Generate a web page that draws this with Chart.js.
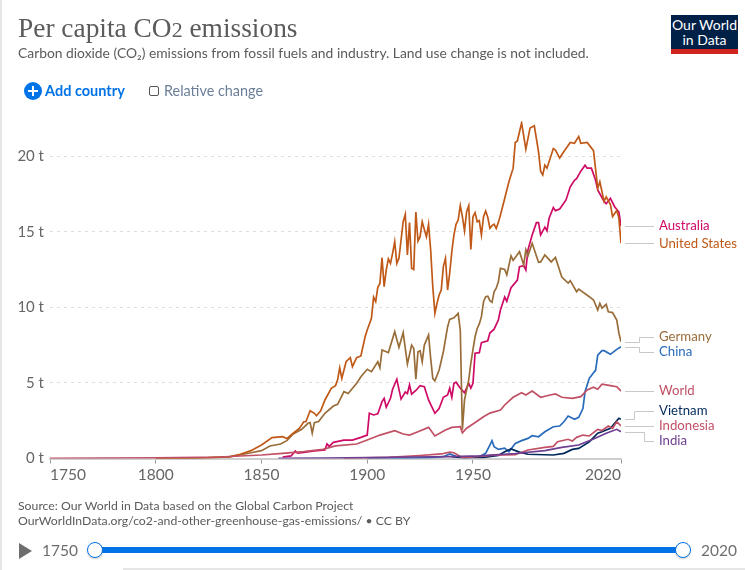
<!DOCTYPE html>
<html>
<head>
<meta charset="utf-8">
<title>Per capita CO2 emissions</title>
<script src="https://cdn.jsdelivr.net/npm/chart.js@4/dist/chart.umd.min.js"></script>
<style>
    html, body { margin: 0; padding: 0; background: #fff; overflow: hidden; }
    #page { position: relative; width: 745px; height: 570px; font-family: Lato, sans-serif; overflow: hidden; }
    #page > * { position: absolute; white-space: nowrap; }
    #edge { left: 0; top: 0; width: 2px; height: 570px; background: #e6e6e6; }
    #bottomline { left: 123px; top: 568px; width: 622px; height: 2px; background: #e6e6e6; }
    #chart { left: 0; top: 0; }
    #title { left: 18px; top: 10px; font-family: "Liberation Serif", serif; font-size: 27.4px; line-height: 36px; color: #5b5b5b; }
    #title span { font-size: 0.8em; }
    #subtitle { left: 18px; top: 44px; font-size: 13.85px; line-height: 18px; color: #5b5b5b; }
    #logo { left: 671px; top: 15px; width: 67px; height: 34px; background: #002147; border-bottom: 5px solid #ce261e; color: #fff; font-size: 14px; line-height: 14.5px; text-align: center; padding-top: 0; }
    #logo div { padding-top: 3px; }
    #addicon { left: 24px; top: 82px; width: 18px; height: 18px; border-radius: 50%; background: #0073e6; }
    #addicon:before { content: ""; position: absolute; left: 4px; top: 8px; width: 10px; height: 2px; background: #fff; }
    #addicon:after { content: ""; position: absolute; left: 8px; top: 4px; width: 2px; height: 10px; background: #fff; }
    #add { left: 45px; top: 82px; font-size: 14.5px; line-height: 18px; font-weight: 700; color: #0073e6; }
    #check { left: 149px; top: 86px; width: 8px; height: 8px; border: 1px solid #555; border-radius: 2px; }
    #relative { left: 164px; top: 82px; font-size: 14.4px; line-height: 18px; color: #6b7f99; }
    #source { left: 18px; top: 499px; font-size: 12.25px; line-height: 14.5px; color: #5b5b5b; }
    #play { left: 19px; top: 543px; width: 0; height: 0; border-left: 13px solid #6e6e6e; border-top: 8px solid transparent; border-bottom: 8px solid transparent; }
    #startyear { left: 42px; top: 541px; font-size: 15.5px; line-height: 18px; color: #6e6e6e; }
    #endyear { left: 701px; top: 541px; font-size: 15.5px; line-height: 18px; color: #6e6e6e; }
    #track { left: 95px; top: 547px; width: 588px; height: 6px; background: #0073e6; }
    .handle { top: 542px; width: 14px; height: 14px; border: 1.5px solid #0073e6; border-radius: 50%; background: #fff; box-shadow: 0 1px 2px rgba(0,0,0,.2); }
</style>
</head>
<body>
<div id="page">
    <canvas id="chart" width="745" height="570"></canvas>
    <div id="edge"></div>
    <div id="bottomline"></div>
    <div id="title">Per capita CO<span>2</span> emissions</div>
    <div id="subtitle">Carbon dioxide (CO₂) emissions from fossil fuels and industry. Land use change is not included.</div>
    <div id="logo"><div>Our World<br>in Data</div></div>
    <div id="addicon"></div>
    <div id="add">Add country</div>
    <div id="check"></div>
    <div id="relative">Relative change</div>
    <div id="source">Source: Our World in Data based on the Global Carbon Project<br>OurWorldInData.org/co2-and-other-greenhouse-gas-emissions/ • CC BY</div>
    <div id="play"></div>
    <div id="startyear">1750</div>
    <div id="track"></div>
    <div class="handle" style="left:87px"></div>
    <div class="handle" style="left:675px"></div>
    <div id="endyear">2020</div>
</div>

<script>
// --- DATOS (t por persona) ---
const xTicks = [1750, 1800, 1850, 1900, 1950, 2020];
const yTicks = [0, 5, 10, 15, 20];

const usYears = [1800,1815,1825,1835,1840,1845,1850,1855,1860,1862,1865,1868,1870,1871,1873,1875,1876,1878,1880,1883,1885,1886,1887,1888,1890,1892,1893,1895,1897,1899,
    1900,1902,1903,1904,1905,1906,1907,1908,1909,1910,1911,1912,1913,1914,1915,1916,1917,1918,1919,1920,1921,1922,1923,1924,1925,1926,1927,1928,1929,1930,1931,1932,1933,1934,1935,1936,1937,1938,1939,1940,1941,1942,1943,1944,1945,1946,1947,1948,1949,1950,1951,1952,1953,1954,1955,1956,1957,1958,1959,1960,1961,1962,1963,
    1965,1967,1969,1970,1971,1973,1975,1977,1979,1981,1982,1983,1984,1985,1988,1989,1991,1993,1994,1996,1998,2000,2001,2004,2007,2009,2010,2012,2013,2015,2016,2018,2019,2020];
const usValues = [0.01,0.03,0.06,0.13,0.28,0.52,0.89,1.38,1.44,1.32,1.67,2.0,2.43,2.43,3.16,2.99,2.83,3.16,3.87,4.64,4.82,5.2,6.0,5.3,6.4,6.67,6.07,6.67,6.78,8.05,
    8.5,9.27,10.67,10.37,11.32,11.58,13.28,11.36,12.47,13.2,12.9,13.57,14.34,12.9,13.24,14.45,15.66,16.15,13.46,15.6,12.58,12.5,16.3,14.38,14.67,15.66,15.15,14.67,15.49,13.79,11.36,9.6,10.26,10.81,11.14,12.69,13.24,11.14,12.25,13.68,14.78,15.49,15.77,16.72,15.99,15.05,16.32,16.72,13.83,15.99,16.26,15.66,15.73,14.78,15.99,16.37,15.95,15.22,15.4,15.49,15.22,15.6,16.1,
    17.2,18.3,19.2,20.9,21.0,22.2,20.45,21.86,22.0,20.3,19.0,18.75,19.4,19.2,20.5,20.4,19.87,20.3,20.5,20.9,20.85,21.3,20.85,20.9,20.36,17.87,18.3,17.0,17.3,16.8,16.0,16.4,15.9,14.24];

const germanyYears = [1800,1820,1835,1845,1850,1854,1859,1862,1865,1869,1872,1873,1874,1875,1877,1880,1884,1886,1889,1891,1895,1897,1900,1902,1905,1906,1907,1909,1910,1913,1915,1917,1919,1921,1922,1923,1924,1925,1926,1927,1929,1930,1931,1932,1934,1936,1938,1939,1941,1943,1944,1945,1946,1948,1949,1950,1951,1952,1953,1954,1955,1956,1957,1958,1959,1960,1961,1962,1963,1965,1966,1968,1969,1972,1974,1975,1976,1978,1981,1982,1984,1987,1989,1992,1995,1996,1999,2000,2005,2007,2009,2010,2011,2013,2014,2016,2018,2019,2020];
const germanyValues = [0.01,0.03,0.1,0.38,0.52,0.83,0.96,1.18,1.62,1.93,2.33,2.37,1.67,2.37,2.45,2.99,3.47,3.58,4.42,4.3,4.97,5.41,5.9,5.74,6.4,6.0,7.18,7.06,7.0,8.39,7.35,8.32,6.25,7.5,7.28,5.24,7.06,7.13,6.4,7.5,8.17,6.63,5.3,5.13,5.85,7.06,8.7,9.2,9.3,9.6,8.5,1.9,3.87,5.2,6.3,7.2,8.05,8.6,8.9,9.38,10.37,10.7,10.73,10.44,10.33,11.03,11.26,11.69,12.58,12.5,12.14,13.4,13.1,13.68,12.8,13.8,13.4,14.23,12.97,13.0,13.46,13.0,13.3,12.0,11.6,11.76,11.03,11.2,10.7,10.48,9.82,10.26,9.95,10.2,9.7,9.65,9.16,8.3,7.72];

const australiaYears = [1860,1864,1866,1867,1870,1875,1880,1881,1882,1884,1889,1893,1897,1900,1901,1903,1905,1907,1908,1909,1911,1912,1914,1916,1918,1919,1920,1921,1923,1925,1927,1929,1932,1934,1936,1938,1939,1940,1941,1942,1944,1946,1948,1949,1950,1951,1953,1954,1957,1958,1960,1962,1963,1965,1966,1968,1971,1972,1974,1975,1976,1978,1980,1981,1982,1984,1985,1986,1988,1989,1991,1994,1996,1998,1999,2001,2003,2004,2006,2008,2009,2012,2013,2015,2017,2019,2020];
const australiaValues = [0.1,0.17,0.5,0.35,0.4,0.5,0.56,0.96,0.8,1.07,1.22,1.22,1.4,1.55,2.99,2.88,2.95,3.76,3.98,3.39,3.98,4.58,5.24,3.93,4.4,4.3,4.86,4.25,4.5,4.82,4.75,3.87,2.99,3.3,4.05,4.2,4.65,4.05,4.97,5.05,4.65,4.35,4.97,4.65,4.97,6.96,7.0,7.66,7.79,8.3,8.55,9.16,9.82,10.68,10.4,11.3,11.8,12.69,12.75,12.47,13.8,14.78,15.6,15.6,14.78,15.3,15.06,15.89,16.6,16.39,16.5,17.1,17.97,18.4,18.5,19.0,19.4,19.2,19.2,18.4,17.76,17.0,16.85,17.2,16.65,16.3,15.37];

const chinaYears = [1900,1920,1930,1936,1939,1942,1947,1950,1953,1956,1958,1959,1960,1962,1965,1967,1970,1973,1976,1978,1981,1984,1988,1991,1993,1995,1998,2000,2002,2003,2005,2008,2009,2011,2012,2015,2018,2020];
const chinaValues = [0.02,0.03,0.06,0.12,0.3,0.15,0.06,0.1,0.12,0.34,0.89,1.18,0.78,0.6,0.68,0.45,1.0,1.18,1.33,1.51,1.44,1.77,2.1,2.15,2.43,2.81,2.59,2.72,3.3,4.42,5.3,5.85,6.84,7.13,7.13,6.89,7.22,7.39];

const worldYears = [1750,1800,1830,1850,1860,1870,1879,1885,1895,1900,1906,1913,1917,1920,1924,1929,1932,1937,1940,1944,1945,1947,1950,1955,1958,1963,1965,1969,1973,1975,1978,1982,1986,1989,1992,1997,2001,2004,2007,2009,2011,2015,2018,2020];
const worldValues = [0.01,0.04,0.1,0.23,0.34,0.45,0.6,0.83,0.96,1.22,1.55,1.84,1.62,1.55,1.77,2.06,1.49,1.88,2.06,2.1,1.7,2.0,2.28,2.76,3.0,3.2,3.54,4.05,4.35,4.2,4.46,4.05,4.18,4.27,4.05,3.98,4.09,4.53,4.71,4.58,4.91,4.82,4.75,4.46];

const vietnamYears = [1940,1945,1955,1962,1965,1968,1972,1976,1988,1993,1997,2000,2005,2009,2011,2015,2019,2020];
const vietnamValues = [0.12,0.05,0.08,0.2,0.45,0.63,0.42,0.28,0.23,0.34,0.6,0.67,1.1,1.67,1.77,2.0,2.66,2.59];

const indonesiaYears = [1889,1910,1925,1935,1939,1941,1945,1950,1960,1970,1976,1984,1988,1990,1995,1997,1999,2002,2005,2009,2011,2014,2016,2018,2020];
const indonesiaValues = [0.01,0.08,0.2,0.3,0.42,0.38,0.05,0.1,0.22,0.25,0.56,0.74,0.8,1.11,1.27,1.15,1.4,1.55,1.49,1.93,1.85,2.15,2.0,2.43,2.15];

const indiaYears = [1858,1880,1900,1920,1940,1953,1970,1984,1992,2000,2007,2013,2018,2020];
const indiaValues = [0.005,0.02,0.06,0.1,0.13,0.17,0.33,0.52,0.74,0.89,1.29,1.67,1.93,1.77];

// Orden de dibujo: el primero queda encima
const series = [
    { name: 'India', years: indiaYears, values: indiaValues, color: '#6d3e91' },
    { name: 'World', years: worldYears, values: worldValues, color: '#c15065' },
    { name: 'Indonesia', years: indonesiaYears, values: indonesiaValues, color: '#c15065' },
    { name: 'Vietnam', years: vietnamYears, values: vietnamValues, color: '#00295b' },
    { name: 'China', years: chinaYears, values: chinaValues, color: '#286bbb' },
    { name: 'United States', years: usYears, values: usValues, color: '#c05917' },
    { name: 'Germany', years: germanyYears, values: germanyValues, color: '#996d39' },
    { name: 'Australia', years: australiaYears, values: australiaValues, color: '#cf0a66' }
];

// Posicion de las etiquetas de la derecha (pixeles de la ventana)
const labelY = { 'Australia': 226, 'United States': 244, 'Germany': 337, 'China': 352, 'World': 391, 'Vietnam': 411, 'Indonesia': 426, 'India': 441 };
const labelKink = { 'Germany': 639, 'China': 639, 'Vietnam': 634, 'India': 644 };

// --- ETIQUETAS DE SERIE CON SU CONECTOR ---
const endLabels = {
    id: 'endLabels',
    afterDatasetsDraw(chart) {
        const ctx = chart.ctx;
        const xs = chart.scales.x;
        const ys = chart.scales.y;
        const startX = xs.getPixelForValue(2020) + 4;
        ctx.save();
        series.forEach(s => {
            const fromY = Math.round(ys.getPixelForValue(s.values[s.values.length - 1])) + 0.5;
            const toY = labelY[s.name] + 0.5;
            const kink = labelKink[s.name];
            ctx.strokeStyle = '#c8c8c8';
            ctx.lineWidth = 1;
            ctx.beginPath();
            ctx.moveTo(startX, fromY);
            if (kink) {
                ctx.lineTo(kink + 0.5, fromY);
                ctx.lineTo(kink + 0.5, toY);
            }
            ctx.lineTo(654, kink ? toY : fromY);
            ctx.stroke();
            ctx.font = '13.2px Lato';
            ctx.fillStyle = s.color;
            ctx.textBaseline = 'middle';
            ctx.fillText(s.name, 659, labelY[s.name]);
        });
        ctx.restore();
    }
};

new Chart(document.getElementById('chart'), {
    type: 'line',
    plugins: [endLabels],
    data: {
        datasets: series.map(s => ({
            label: s.name,
            data: s.years.map((y, i) => ({ x: y, y: s.values[i] })),
            borderColor: s.color,
            borderWidth: 1.7,
            pointRadius: 0,
            tension: 0,
            fill: false
        }))
    },
    options: {
        responsive: false,
        animation: false,
        layout: { padding: { top: 121.3, right: 124, bottom: 71.5, left: 0 } },
        plugins: { legend: { display: false }, title: { display: false }, tooltip: { enabled: false } },
        scales: {
            x: {
                type: 'linear',
                min: 1750,
                max: 2020,
                afterFit: s => { s.height = 40; },
                afterBuildTicks: s => { s.ticks = xTicks.map(v => ({ value: v })); },
                border: { display: true, color: '#cfcfcf', width: 2 },
                grid: { drawOnChartArea: false, drawTicks: true, tickLength: 5, color: '#999' },
                ticks: {
                    align: 'inner',
                    maxRotation: 0,
                    autoSkip: false,
                    padding: 2,
                    color: '#666',
                    font: { family: 'Lato', size: 15.5 },
                    callback: v => String(v)
                }
            },
            y: {
                min: 0,
                max: 22.3,
                afterFit: s => { s.width = 50; },
                afterBuildTicks: s => { s.ticks = yTicks.map(v => ({ value: v })); },
                border: { display: false, dash: [3, 4] },
                grid: {
                    drawTicks: false,
                    color: c => (c.tick && c.tick.value === 0 ? 'transparent' : '#dddddd')
                },
                ticks: {
                    padding: 6,
                    color: '#666',
                    font: { family: 'Lato', size: 15 },
                    callback: v => v + ' t'
                }
            }
        }
    }
});
</script>
</body>
</html>
